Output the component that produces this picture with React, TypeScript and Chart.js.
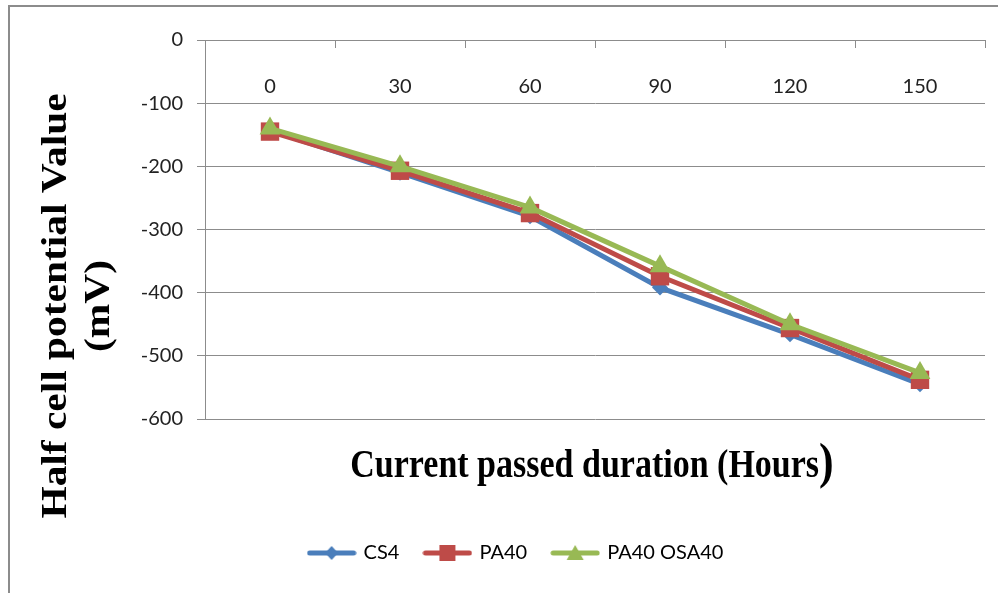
import React, { useEffect, useRef } from 'react';
import { Chart, registerables } from 'chart.js';

Chart.register(...registerables);

// ---- data ----
const hours = ['0', '30', '60', '90', '120', '150'];
const cs4 = [-143, -210, -279, -392, -466, -545];
const pa40 = [-145, -207, -274, -374, -456, -538];
const pa40osa40 = [-140, -200, -265, -358, -450, -527];
const seriesNames = ['CS4', 'PA40', 'PA40 OSA40'];
const yTitleLines = ['Half cell potential Value', '(mV)'];
const xTitleMain = 'Current passed duration (Hours';
const xTitleClose = ')';

const BLUE = '#4A7EBB';
const RED = '#BE4B48';
const GREEN = '#98B954';
const GRID = '#8c8c8c';
const SANS = 'Lato, "Open Sans", sans-serif';
const SERIF = '"Liberation Serif", "Times New Roman", serif';

function makeLegendImage(color: string, kind: string): HTMLCanvasElement {
  const c = document.createElement('canvas');
  c.width = 50;
  c.height = 22;
  const g = c.getContext('2d')!;
  g.strokeStyle = color;
  g.lineWidth = 5;
  g.lineCap = 'round';
  g.beginPath();
  g.moveTo(3, 11);
  g.lineTo(47, 11);
  g.stroke();
  g.fillStyle = color;
  g.beginPath();
  if (kind === 'diamond') {
    g.moveTo(25, 4); g.lineTo(31.5, 11); g.lineTo(25, 18); g.lineTo(18.5, 11);
  } else if (kind === 'square') {
    g.rect(17, 3, 16, 16);
  } else {
    g.moveTo(25, 3); g.lineTo(33.5, 18); g.lineTo(16.5, 18);
  }
  g.closePath();
  g.fill();
  return c;
}

function stretchedText(ctx: CanvasRenderingContext2D, text: string, x: number, y: number, rot: number, sx: number, sy: number) {
  ctx.save();
  ctx.translate(x, y);
  ctx.rotate(rot);
  ctx.scale(sx, sy);
  ctx.fillText(text, 0, 0);
  ctx.restore();
}

const decoPlugin = {
  id: 'deco',
  beforeDraw(chart: any) {
    const ctx = chart.ctx as CanvasRenderingContext2D;
    ctx.save();
    ctx.strokeStyle = GRID;
    ctx.lineWidth = 2;
    ctx.strokeRect(9, 6, 1000, 700);
    ctx.restore();
  },
  afterDraw(chart: any) {
    const ctx = chart.ctx as CanvasRenderingContext2D;
    const x = chart.scales.x;
    const y = chart.scales.y;
    const area = chart.chartArea;
    const y0 = y.getPixelForValue(0);
    ctx.save();
    // tick marks of the category axis (crossing at 0), pointing down
    ctx.strokeStyle = GRID;
    ctx.lineWidth = 1;
    for (let i = 0; i <= hours.length; i++) {
      const px = Math.round(x.getPixelForValue(i - 0.5)) + 0.5;
      ctx.beginPath();
      ctx.moveTo(px, y0);
      ctx.lineTo(px, y0 + 8);
      ctx.stroke();
    }
    // category labels below the axis line
    ctx.fillStyle = '#222';
    ctx.font = `20px ${SANS}`;
    ctx.textAlign = 'center';
    ctx.textBaseline = 'middle';
    hours.forEach((h, i) => {
      ctx.fillText(h, x.getPixelForValue(i), y0 + 47);
    });
    // y title
    ctx.fillStyle = '#000';
    ctx.font = `bold 36px ${SERIF}`;
    const cy = area.top + 266;
    stretchedText(ctx, yTitleLines[0], area.left - 148, cy, -Math.PI / 2, 1.15, 1);
    stretchedText(ctx, yTitleLines[1], area.left - 105, cy, -Math.PI / 2, 1.15, 1);
    // x title (closing bracket drawn larger, as in the original)
    ctx.textAlign = 'left';
    ctx.textBaseline = 'alphabetic';
    ctx.font = `bold 34px ${SERIF}`;
    const w1 = ctx.measureText(xTitleMain).width;
    ctx.font = `bold 44px ${SERIF}`;
    const w2 = ctx.measureText(xTitleClose).width;
    const startX = (area.left + area.right) / 2 - 3 - (w1 + w2) / 2;
    const base = area.bottom + 58;
    ctx.font = `bold 34px ${SERIF}`;
    stretchedText(ctx, xTitleMain, startX, base, 0, 1, 1.15);
    ctx.font = `bold 44px ${SERIF}`;
    stretchedText(ctx, xTitleClose, startX + w1, base + 1, 0, 1, 1.15);
    ctx.restore();
  },
};

export default function App() {
  const ref = useRef<HTMLCanvasElement>(null);
  useEffect(() => {
    const imgs = [
      makeLegendImage(BLUE, 'diamond'),
      makeLegendImage(RED, 'square'),
      makeLegendImage(GREEN, 'triangle'),
    ];
    const chart = new Chart(ref.current!, {
      type: 'line',
      data: {
        labels: hours,
        datasets: [
          {
            label: seriesNames[0], data: cs4, borderColor: BLUE, backgroundColor: BLUE,
            borderWidth: 5, pointStyle: 'rectRot', pointRadius: 8, pointBorderWidth: 0, order: 2,
          },
          {
            label: seriesNames[1], data: pa40, borderColor: RED, backgroundColor: RED,
            borderWidth: 5, pointStyle: 'rect', pointRadius: 13, pointBorderWidth: 0, order: 1,
          },
          {
            label: seriesNames[2], data: pa40osa40, borderColor: GREEN, backgroundColor: GREEN,
            borderWidth: 5, pointStyle: 'triangle', pointRadius: 12, pointBorderWidth: 0, order: 0,
          },
        ],
      },
      plugins: [decoPlugin],
      options: {
        responsive: false,
        animation: false,
        layout: { padding: { top: 40, right: 13, bottom: 20, left: 48 } },
        plugins: {
          tooltip: { enabled: false },
          legend: {
            position: 'bottom',
            labels: {
              usePointStyle: true,
              pointStyleWidth: 44,
              padding: 26,
              color: '#000',
              font: { family: SANS, size: 20 },
              generateLabels: (c: any) =>
                c.data.datasets.map((ds: any, i: number) => ({
                  text: ds.label,
                  pointStyle: imgs[i],
                  datasetIndex: i,
                  fillStyle: ds.borderColor,
                  strokeStyle: ds.borderColor,
                  lineWidth: 0,
                  hidden: false,
                  fontColor: '#000',
                })),
            },
          },
        },
        scales: {
          x: { type: 'category', display: false, offset: true, position: 'top' },
          x2: {
            type: 'category',
            position: 'bottom',
            display: true,
            grid: { display: false, drawTicks: false },
            border: { display: false },
            ticks: { display: false },
            afterFit: (s: any) => { s.height = 98; },
          },
          y: {
            min: -600,
            max: 0,
            ticks: { stepSize: 100, color: '#222', padding: 14, font: { family: SANS, size: 20 } },
            grid: { color: GRID, lineWidth: 1, tickLength: 8, drawTicks: true },
            border: { color: GRID, width: 1 },
            afterFit: (s: any) => { s.width = 157; },
          },
        },
      },
    } as any);
    return () => chart.destroy();
  }, []);
  return (
    <div style={{ position: 'absolute', left: 0, top: 0, width: 998, height: 593, background: '#fff' }}>
      <canvas ref={ref} width={998} height={593} style={{ display: 'block', width: 998, height: 593 }} />
    </div>
  );
}
